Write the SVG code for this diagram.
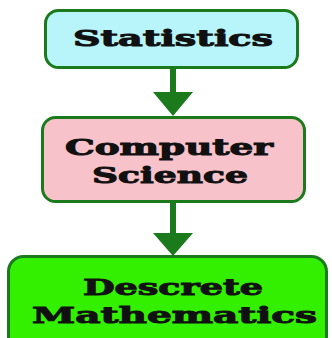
<svg xmlns="http://www.w3.org/2000/svg" width="332" height="338" viewBox="0 0 332 338">
<style>
.box{stroke:#1b7a1b;stroke-width:3}
.t{font-family:"DejaVu Serif","Liberation Serif",serif;font-weight:bold;font-size:23px;fill:#111;stroke:#111;stroke-width:1}
.arr{fill:#1b7a1b}
</style>
<rect width="332" height="338" fill="#ffffff"/>
<g id="connectors">
<path class="arr" d="M170,67 L176,67 L176,92 L193,92 L173,116 L153,92 L170,92 Z"/>
<path class="arr" d="M170,202 L176,202 L176,233 L193,233 L173,256 L153,233 L170,233 Z"/>
</g>
<g id="statistics">
<rect class="box" x="45.5" y="10.5" width="252" height="57" rx="13" fill="#b7f5fa"/>
<text class="t" x="73" y="46" textLength="200" lengthAdjust="spacingAndGlyphs">Statistics</text>
</g>
<g id="computer-science">
<rect class="box" x="42.5" y="117.5" width="262" height="84" rx="13" fill="#f8c2ca"/>
<text class="t" x="65" y="155" textLength="208" lengthAdjust="spacingAndGlyphs">Computer</text>
<text class="t" x="92" y="183" textLength="156" lengthAdjust="spacingAndGlyphs">Science</text>
</g>
<g id="descrete-mathematics">
<rect class="box" x="8.5" y="256.5" width="318" height="95" rx="15" fill="#33f000"/>
<text class="t" x="83" y="295" textLength="180" lengthAdjust="spacingAndGlyphs">Descrete</text>
<text class="t" x="32" y="323" textLength="285" lengthAdjust="spacingAndGlyphs">Mathematics</text>
</g>
</svg>
